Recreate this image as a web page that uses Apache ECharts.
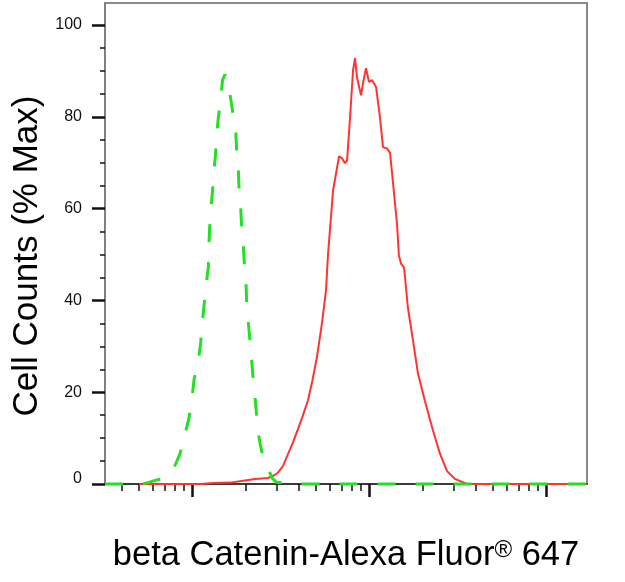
<!DOCTYPE html>
<html>
<head>
<meta charset="utf-8">
<script src="https://cdn.jsdelivr.net/npm/echarts@6/dist/echarts.min.js"></script>
<style>
html,body{margin:0;padding:0;background:#fff;}
#chart{width:625px;height:582px;}
</style>
</head>
<body>
<div id="chart"></div>
<script>
// x values are log10(fluorescence intensity); y values are % of max cell counts
const xRangeLog = [2.508, 5.232];
const majorDecades = [3, 4, 5];
const minorMultipliers = [2, 3, 4, 5, 6, 7, 8, 9];
const yMajorTicks = [0, 20, 40, 60, 80, 100];
const yMinorTicks = [5, 10, 15, 25, 30, 35, 45, 50, 55, 65, 70, 75, 85, 90, 95];
const yMax = 104.8;

const isotypeLogX = [2.508, 2.72, 2.76, 2.80, 2.84, 2.87, 2.893, 2.912, 2.932, 2.960, 2.983, 3.0, 3.011, 3.036, 3.049, 3.058, 3.069, 3.079, 3.092, 3.095, 3.099, 3.106, 3.115, 3.123, 3.132, 3.140, 3.149, 3.164, 3.172, 3.186, 3.202, 3.215, 3.233, 3.247, 3.253, 3.262, 3.266, 3.275, 3.281, 3.290, 3.296, 3.305, 3.309, 3.318, 3.328, 3.337, 3.346, 3.356, 3.366, 3.375, 3.386, 3.397, 3.415, 3.435, 3.455, 3.475, 3.52, 3.56, 5.232];
const isotypePct  = [0, 0, 0.4, 0.9, 1.2, 2.0, 3.1, 4.8, 6.6, 10.9, 14.4, 18.8, 22.7, 26.9, 30.9, 35.2, 39.3, 43.2, 47.2, 51.6, 55.4, 60.0, 63.5, 68.0, 71.6, 76.4, 80.0, 84.5, 88.0, 89.2, 88.2, 84.7, 80.3, 76.5, 72.0, 68.2, 63.8, 60.1, 55.6, 52.0, 47.6, 43.6, 39.2, 35.2, 30.9, 26.9, 22.6, 18.8, 14.5, 10.9, 8.5, 6.5, 4.3, 2.8, 1.2, 0.4, 0.2, 0, 0];

const stainedLogX = [2.70, 3.05, 3.12, 3.215, 3.288, 3.356, 3.429, 3.460, 3.486, 3.515, 3.542, 3.570, 3.599, 3.627, 3.655, 3.680, 3.706, 3.734, 3.757, 3.768, 3.780, 3.797, 3.814, 3.831, 3.847, 3.864, 3.876, 3.893, 3.910, 3.921, 3.932, 3.955, 3.966, 3.983, 4.000, 4.017, 4.028, 4.040, 4.062, 4.079, 4.102, 4.119, 4.136, 4.158, 4.169, 4.181, 4.198, 4.220, 4.249, 4.277, 4.316, 4.362, 4.401, 4.441, 4.486, 4.554, 5.232];
const stainedPct  = [0, 0, 0.2, 0.3, 0.7, 1.1, 1.3, 1.8, 2.5, 4.0, 6.5, 9.0, 12.0, 15.0, 18.2, 22.5, 27.7, 35.0, 42.2, 49.8, 55.7, 64.0, 67.7, 71.4, 71.0, 69.9, 70.5, 79.9, 90.2, 92.8, 88.6, 84.7, 87.3, 90.6, 87.6, 88.0, 88.0, 86.5, 79.9, 73.4, 73.1, 72.1, 65.5, 56.8, 49.8, 48.0, 47.2, 38.4, 31.2, 24.0, 18.1, 11.6, 6.6, 2.8, 1.1, 0, 0];

const xTitle = 'beta Catenin-Alexa Fluor{sup|®} 647';
const yTitle = 'Cell Counts (% Max)';

// log-axis tick positions (in log10 units)
const majorXTicks = majorDecades.slice();
const minorXTicks = [];
[2, 3, 4, 5].forEach(function (d) {
  minorMultipliers.forEach(function (k) { minorXTicks.push(d + Math.log10(k)); });
});

function pairs(xs, ys) { return xs.map(function (x, i) { return [x, ys[i]]; }); }

const FONT = "'Liberation Sans', Arial, sans-serif";
const chart = echarts.init(document.getElementById('chart'), null, { renderer: 'canvas' });

const hiddenBits = { axisLabel: { show: false }, splitLine: { show: false }, minorTick: { show: false } };

chart.setOption({
  animation: false,
  backgroundColor: '#ffffff',
  grid: { left: 105, right: 38, top: 3, bottom: 98, show: true, borderColor: '#8a8a8a', borderWidth: 2, backgroundColor: 'transparent' },
  xAxis: [
    Object.assign({}, hiddenBits, {
      type: 'value', min: xRangeLog[0], max: xRangeLog[1],
      axisLine: { show: true, lineStyle: { color: '#3a3a3a', width: 2 } },
      axisTick: { show: true, customValues: majorXTicks, length: 13, lineStyle: { color: '#111', width: 2.5 } },
      name: xTitle, nameLocation: 'middle', nameGap: 54,
      nameTextStyle: { fontSize: 34.5, color: '#000', fontFamily: FONT,
        rich: { sup: { fontSize: 24, verticalAlign: 'top', color: '#000', fontFamily: FONT } } }
    }),
    Object.assign({}, hiddenBits, {
      type: 'value', min: xRangeLog[0], max: xRangeLog[1], position: 'bottom',
      axisLine: { show: false },
      axisTick: { show: true, customValues: minorXTicks, length: 7, lineStyle: { color: '#111', width: 1.5 } }
    })
  ],
  yAxis: [
    {
      type: 'value', min: 0, max: yMax,
      axisLine: { show: true, lineStyle: { color: '#808080', width: 2 } },
      axisTick: { show: true, customValues: yMajorTicks, length: 13, lineStyle: { color: '#111', width: 2.5 } },
      axisLabel: { show: true, customValues: yMajorTicks, margin: 23, fontSize: 16, color: '#111', fontFamily: FONT,
        formatter: function (v) { return v === 0 ? '{z|0}' : String(v); },
        rich: { z: { fontSize: 16, color: '#111', fontFamily: FONT, padding: [0, 0, 10, 0] } } },
      splitLine: { show: false }, minorTick: { show: false },
      name: yTitle, nameLocation: 'middle', nameGap: 58, nameRotate: 90,
      nameTextStyle: { fontSize: 35, color: '#000', fontFamily: FONT, padding: [0, 25, 0, 0] }
    },
    Object.assign({}, hiddenBits, {
      type: 'value', min: 0, max: yMax, position: 'left',
      axisLine: { show: false },
      axisTick: { show: true, customValues: yMinorTicks, length: 5, lineStyle: { color: '#111', width: 1.5 } }
    })
  ],
  series: [
    {
      type: 'line', xAxisIndex: 0, yAxisIndex: 0, data: pairs(stainedLogX, stainedPct),
      symbol: 'none', smooth: false, clip: false,
      lineStyle: { color: '#ff3333', width: 2 }, z: 3
    },
    {
      type: 'line', xAxisIndex: 0, yAxisIndex: 0, data: pairs(isotypeLogX, isotypePct),
      symbol: 'none', smooth: false, clip: false,
      lineStyle: { color: '#22e022', width: 3, type: [18, 20] }, z: 4
    }
  ]
});
</script>
</body>
</html>
